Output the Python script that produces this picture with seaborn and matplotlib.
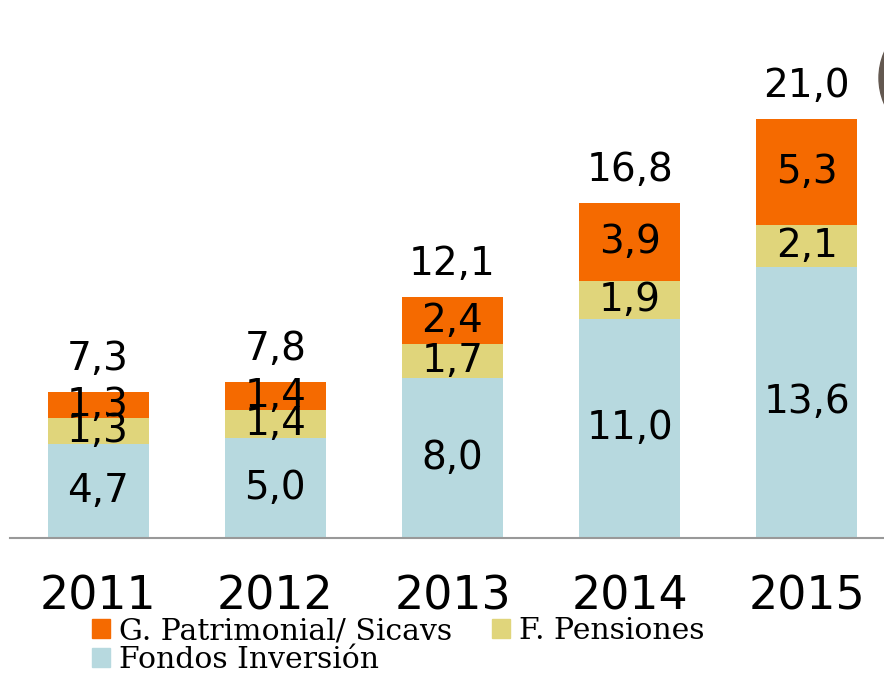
import matplotlib.pyplot as plt
import pandas as pd
import seaborn as sns
from matplotlib.patches import Patch, Ellipse

# Data (billions)
years = ["2011", "2012", "2013", "2014", "2015"]
fondos_inversion = [4.7, 5.0, 8.0, 11.0, 13.6]
f_pensiones = [1.3, 1.4, 1.7, 1.9, 2.1]
g_patrimonial = [1.3, 1.4, 2.4, 3.9, 5.3]
totals = [7.3, 7.8, 12.1, 16.8, 21.0]

c_fondos = "#b7d9df"
c_pens = "#e0d57b"
c_patr = "#f56a00"

df = pd.DataFrame({
    "year": years,
    "fondos": fondos_inversion,
    "pens": f_pensiones,
    "patr": g_patrimonial,
})
df["lvl2"] = df["fondos"] + df["pens"]
df["lvl3"] = df["lvl2"] + df["patr"]

sns.set_style("white")
plt.rcParams["font.family"] = ["DejaVu Sans"]
plt.rcParams["text.color"] = "black"
plt.rcParams["xtick.color"] = "black"

fig = plt.figure(figsize=(8.84, 6.82), dpi=100)
ax = fig.add_axes([10 / 884, 1 - 538 / 682, 1 - 10 / 884 + 0.05, 538 / 682])

w = 0.57
for col, c in [("lvl3", c_patr), ("lvl2", c_pens), ("fondos", c_fondos)]:
    sns.barplot(data=df, x="year", y=col, color=c, width=w, saturation=1,
                linewidth=0, ax=ax)

lab_fs = 28
for i, row in df.iterrows():
    ax.text(i, row["fondos"] / 2, f"{row['fondos']:.1f}".replace(".", ","),
            ha="center", va="center", fontsize=lab_fs)
    ax.text(i, row["fondos"] + row["pens"] / 2, f"{row['pens']:.1f}".replace(".", ","),
            ha="center", va="center", fontsize=lab_fs)
    ax.text(i, row["lvl2"] + row["patr"] / 2, f"{row['patr']:.1f}".replace(".", ","),
            ha="center", va="center", fontsize=lab_fs)
    ax.text(i, row["lvl3"] + 0.7, f"{totals[i]:.1f}".replace(".", ","),
            ha="center", va="bottom", fontsize=lab_fs)

ax.set_xlim(-0.497, 4.435 + 0.05 * 884 / 177)
ax.set_ylim(0, 538 / 19.95)
ax.set_xlabel("")
ax.set_ylabel("")
ax.set_yticks([])
ax.tick_params(axis="x", length=0, pad=26, labelsize=33)
for s in ["top", "right", "left"]:
    ax.spines[s].set_visible(False)
ax.spines["bottom"].set_color("#999999")
ax.spines["bottom"].set_linewidth(1.5)

handles = [
    Patch(color=c_patr, label="G. Patrimonial/ Sicavs"),
    Patch(color=c_fondos, label="Fondos Inversión"),
    Patch(color=c_pens, label="F. Pensiones"),
]
fig.legend(handles=handles, ncol=2, loc="upper left",
           bbox_to_anchor=(92 / 884, 1 - 617 / 682), frameon=False,
           prop={"family": "DejaVu Serif", "size": 21.5},
           handlelength=0.6, handleheight=0.6, handletextpad=0.3,
           labelspacing=0.02, columnspacing=1.35, borderpad=0, borderaxespad=0)

# partial brown circle at top right edge
fig.patches.append(Ellipse((944 / 884, 1 - 78 / 682), 130 / 884, 130 / 682,
                           transform=fig.transFigure, color="#635850", zorder=0))

fig.savefig("out.png", dpi=100)
